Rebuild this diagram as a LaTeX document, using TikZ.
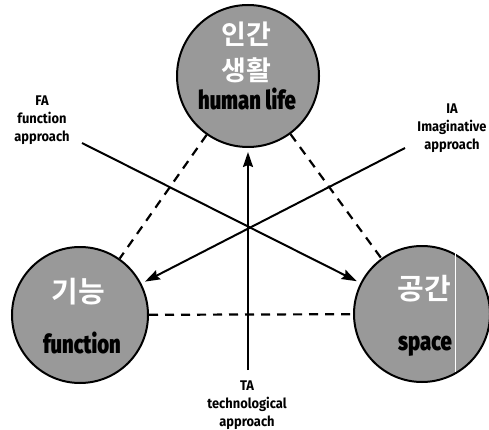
\documentclass[tikz,border=0pt]{standalone}
\usepackage{fontspec}
\setmainfont{Fira Sans}
\newfontfamily\kr{Noto Sans CJK KR Bold}
\newfontfamily\lblfont{Fira Sans}[FakeStretch=0.92]
\newfontfamily\engfont{Fira Sans Black}[FakeStretch=0.78]
\usetikzlibrary{arrows.meta}
\begin{document}
\begin{tikzpicture}[x=1pt,y=-1pt,
  circ/.style={circle,draw,line width=2pt,fill=black!40,inner sep=0pt,minimum size=#1},
  dashline/.style={line width=2.2pt,dash pattern=on 9pt off 7pt},
  arr/.style={line width=2pt,-{Stealth[length=15pt,width=10pt,inset=2pt]},shorten >=4pt},
  lbl/.style={align=center,inner sep=0pt,font=\lblfont\bfseries\fontsize{14}{18}\selectfont},
  kor/.style={inner sep=0pt,text=white,font=\kr\fontsize{#1}{#1}\selectfont},
  eng/.style={inner sep=0pt,anchor=base,font=\engfont\fontsize{26}{28}\selectfont}]
\useasboundingbox (0,0) rectangle (489,430);
\node[circ=142pt] (top) at (248,76) {};
\node[circ=136pt] (left) at (80,315) {};
\node[circ=136pt] (right) at (422,314) {};
\draw[white,line width=1pt] (455,247) -- (455,372);
\draw[dashline] (top) -- (left);
\draw[dashline] (top) -- (right);
\draw[dashline] (left) -- (right);
\coordinate (fa) at (82,143);
\coordinate (ia) at (405,148);
\coordinate (ta) at (248,370);
\draw[arr] (fa) -- (right);
\draw[arr] (ia) -- (left);
\draw[arr] (ta) -- (top);
\node[lbl] (falbl) at (42,120) {FA\\function\\approach};
\node[lbl] (ialbl) at (452,128) {IA\\Imaginative\\approach};
\node[lbl] (talbl) at (247,405) {TA\\technological\\approach};
\node[eng] (t3) at (247,110) {human life};
\node[eng] (l2) at (82,353) {function};
\node[eng] (r2) at (425,350) {space};
\node[kor=27] (t1) at (246,34) {인간};
\node[kor=27] (t2) at (246,70) {생활};
\node[kor=29] (l1) at (78,292) {기능};
\node[kor=29] (r1) at (424,289) {공간};
\end{tikzpicture}
\end{document}
